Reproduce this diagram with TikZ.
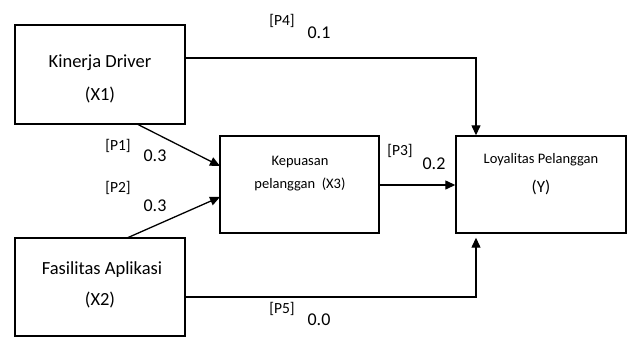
\documentclass[tikz,border=0pt]{standalone}
\usepackage{fontspec}
\setmainfont{Carlito}
\usetikzlibrary{arrows.meta}
\begin{document}
\begin{tikzpicture}[x=1pt,y=-1pt,
  box/.style={draw, line width=1.4pt, inner sep=0pt},
  conn/.style={line width=1.3pt, -{Triangle[length=10pt,width=9pt]}},
  lbl/.style={font=\fontsize{15.5}{17}\selectfont, inner sep=0pt},
  val/.style={font=\fontsize{18}{20}\selectfont, inner sep=0pt},
  big/.style={font=\fontsize{18.5}{20}\selectfont, inner sep=0pt, align=center},
  small/.style={font=\fontsize{14.5}{16}\selectfont, inner sep=0pt, align=center}]
\useasboundingbox (0,0) rectangle (630,338);
\node[box, minimum width=170pt, minimum height=99pt] (x1) at (100,74.5) {};
\node[box, minimum width=170pt, minimum height=98pt] (x2) at (100,287) {};
\node[box, minimum width=159pt, minimum height=97pt] (x3) at (299.5,184.5) {};
\node[box, minimum width=170pt, minimum height=97pt] (y) at (541,184.5) {};
\node[big] (t1a) at (100,63) {Kinerja Driver};
\node[big] (t1b) at (100,95) {(X1)};
\node[big] (t2a) at (102,270) {Fasilitas Aplikasi};
\node[big] (t2b) at (100,300) {(X2)};
\node[small] (t3a) at (300,162) {Kepuasan};
\node[small] (t3b) at (300,184) {pelanggan~~(X3)};
\node[small] (t4a) at (541,160) {Loyalitas Pelanggan};
\node[font=\fontsize{17}{19}\selectfont, inner sep=0pt] (t4b) at (541,187) {(Y)};
\coordinate (p1s) at (137,124);
\coordinate (p1e) at (220,166);
\coordinate (p2s) at (127,238);
\coordinate (p2e) at (220,197);
\coordinate (c4) at (476,58);
\coordinate (c5) at (476,297);
\draw[conn] (p1s) -- (p1e);
\draw[conn] (p2s) -- (p2e);
\draw[conn] (x3.east |- 0,185) -- (y.west |- 0,185);
\draw[conn] (x1.east |- 0,58) -- (c4) -- (y.north -| c4);
\draw[conn, shorten >=4pt] (x2.east |- 0,297) -- (c5) -- (y.south -| c5);
\node[lbl] (l1) at (118,146) {[P1]};
\node[val] (v1) at (155,156) {0.3};
\node[lbl] (l2) at (118,188) {[P2]};
\node[val] (v2) at (155,206) {0.3};
\node[lbl] (l3) at (400,151) {[P3]};
\node[val] (v3) at (434,164) {0.2};
\node[lbl] (l4) at (282,21) {[P4]};
\node[val] (v4) at (319,33) {0.1};
\node[lbl] (l5) at (282,309) {[P5]};
\node[val] (v5) at (319,320) {0.0};
\end{tikzpicture}
\end{document}
